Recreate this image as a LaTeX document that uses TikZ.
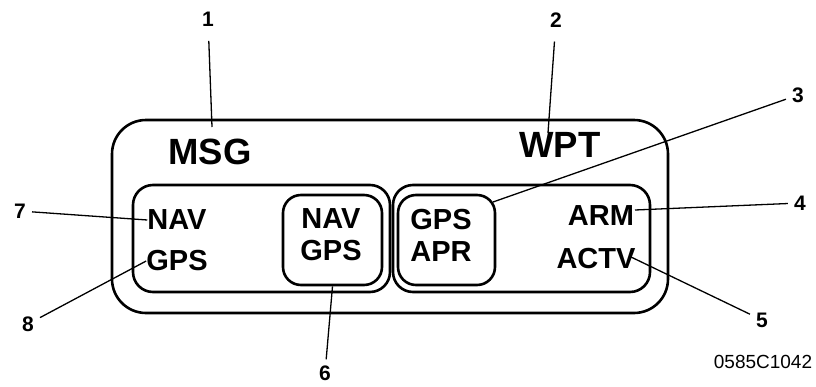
\documentclass[tikz,border=0pt]{standalone}
\usepackage{fontspec}
\setmainfont{Liberation Sans}
\usetikzlibrary{positioning}

\begin{document}
\begin{tikzpicture}[x=1pt, y=-1pt,
  panel/.style={draw, line width=2.6pt, rounded corners=#1, inner sep=0pt},
  big/.style={font=\fontsize{36.5}{38}\selectfont\bfseries, inner sep=0pt},
  lbl/.style={font=\fontsize{29}{32}\selectfont\bfseries, inner sep=0pt, align=center},
  num/.style={font=\fontsize{21}{22}\selectfont\bfseries, inner sep=6pt},
  lead/.style={line width=1.3pt}]
  \useasboundingbox (0,0) rectangle (816,386);
  % frames
  \node[panel=34pt, minimum width=556pt, minimum height=193pt] (annun) at (390,216.5) {};
  \node[panel=20pt, minimum width=257pt, minimum height=107pt] (leftwin) at (261.5,238.5) {};
  \node[panel=20pt, minimum width=257pt, minimum height=107pt] (rightwin) at (521.5,238.5) {};
  \node[panel=18pt, minimum width=99pt, minimum height=90pt] (navbox) at (332.5,240) {};
  \node[panel=18pt, minimum width=97pt, minimum height=90pt] (aprbox) at (446.5,240) {};
  % texts
  \node[big] (msg) at (210,152) {MSG};
  \node[big] (wpt) at (560,145) {WPT};
  \node[lbl] (nav) at (177,220) {NAV};
  \node[lbl] (gps) at (177,261) {GPS};
  \node[lbl] (navgps) at (331,235) {NAV\\GPS};
  \node[lbl] (gpsapr) at (441,235) {GPS\\APR};
  \node[lbl] (arm) at (601,216) {ARM};
  \node[lbl] (actv) at (596,259) {ACTV};
  % callouts
  \node[num] (n1) at (208,19.5) {1};
  \node[num] (n2) at (556,20) {2};
  \node[num] (n3) at (798,95) {3};
  \node[num] (n4) at (800,203) {4};
  \node[num] (n5) at (762,320) {5};
  \node[num] (n6) at (325,373) {6};
  \node[num] (n7) at (20,211) {7};
  \node[num] (n8) at (28,324) {8};
  \node[font=\fontsize{19}{20}\selectfont, inner sep=0pt] (fig) at (763,362) {0585C1042};
  \coordinate (c1) at (212,127);
  \coordinate (c2) at (548,133);
  \coordinate (c3) at (493,202);
  \coordinate (c4) at (635,210);
  \coordinate (c5) at (631,257);
  \draw[lead, shorten <=8pt] (n1) -- (c1);
  \draw[lead, shorten <=8pt] (n2) -- (c2);
  \draw[lead] (n3) -- (c3);
  \draw[lead] (n4) -- (c4);
  \draw[lead] (n5) -- (c5);
  \draw[lead] (n6) -- (navbox.south);
  \draw[lead] (n7) -- (nav.west);
  \draw[lead] (n8) -- (gps.west);
\end{tikzpicture}
\end{document}
